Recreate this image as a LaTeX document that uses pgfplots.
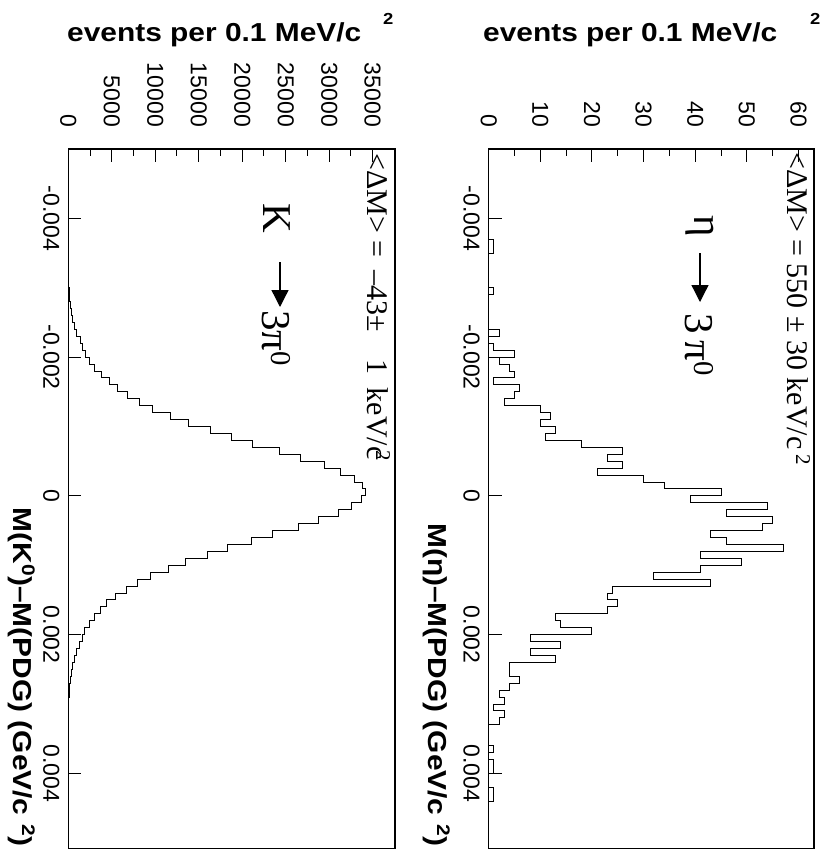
\documentclass[border=0pt]{standalone}
\usepackage{pgfplots}
\pgfplotsset{compat=1.18}
\usepackage{pgfplotstable}
\usepackage{fontspec}
\setmainfont{Liberation Sans}
\newfontfamily\serifface{Liberation Serif}
\newfontfamily\labelface{Liberation Sans}[FakeStretch=1.15]
\usetikzlibrary{arrows.meta}

% eta -> 3pi0 : lower bin edge M(eta)-M(PDG) [GeV/c^2], entries per bin
% (zero runs are written once; the outline returns to the axis there)
\pgfplotstableread{
m n
-0.0050 0
-0.0037 1
-0.0036 1
-0.0035 0
-0.0030 1
-0.0029 0
-0.0024 2
-0.0023 0
-0.0022 1
-0.0021 5
-0.0020 2
-0.0019 4
-0.0018 5
-0.0017 1
-0.0016 6
-0.0015 5
-0.0014 3
-0.0013 10
-0.0012 12
-0.0011 10
-0.0010 13
-0.0009 11
-0.0008 18
-0.0007 26
-0.0006 23
-0.0005 26
-0.0004 21
-0.0003 30
-0.0002 34
-0.0001 45
0.0000 39
0.0001 54
0.0002 46
0.0003 55
0.0004 53
0.0005 43
0.0006 46
0.0007 57
0.0008 41
0.0009 49
0.0010 41
0.0011 32
0.0012 43
0.0013 24
0.0014 23
0.0015 25
0.0016 23
0.0017 13
0.0018 14
0.0019 20
0.0020 8
0.0021 14
0.0022 8
0.0023 13
0.0024 4
0.0025 4
0.0026 6
0.0027 4
0.0028 2
0.0029 3
0.0030 1
0.0031 3
0.0032 2
0.0033 0
0.0036 1
0.0037 0
0.0038 1
0.0039 1
0.0040 0
0.0042 1
0.0043 1
0.0044 0
0.0050 0
}\etadata

% K0 -> 3pi0 : lower bin edge M(K0)-M(PDG) [GeV/c^2], entries per bin
\pgfplotstableread{
m n
-0.0050 0
-0.0034 8
-0.0033 15
-0.0032 30
-0.0031 55
-0.0030 90
-0.0029 150
-0.0028 240
-0.0027 360
-0.0026 520
-0.0025 760
-0.0024 970
-0.0023 1350
-0.0022 1660
-0.0021 1930
-0.0020 2430
-0.0019 3000
-0.0018 3770
-0.0017 4730
-0.0016 5660
-0.0015 6850
-0.0014 8160
-0.0013 9730
-0.0012 11730
-0.0011 13850
-0.0010 16350
-0.0009 18730
-0.0008 21230
-0.0007 24310
-0.0006 26660
-0.0005 29420
-0.0004 31350
-0.0003 32880
-0.0002 33800
-0.0001 34150
0.0000 33750
0.0001 32510
0.0002 31020
0.0003 28780
0.0004 26430
0.0005 23470
0.0006 21050
0.0007 18280
0.0008 15970
0.0009 13500
0.0010 11470
0.0011 9510
0.0012 7970
0.0013 6700
0.0014 5430
0.0015 4430
0.0016 3660
0.0017 3010
0.0018 2430
0.0019 1890
0.0020 1580
0.0021 1270
0.0022 960
0.0023 700
0.0024 500
0.0025 340
0.0026 220
0.0027 140
0.0028 85
0.0029 50
0.0030 28
0.0031 15
0.0032 8
0.0033 0
0.0050 0
}\kaondata

\pgfplotsset{
  massaxis/.style={
    scale only axis,
    height=699.3pt,
    y dir=reverse,
    ymin=-0.005, ymax=0.00508,
    xmin=0,
    axis line style={line width=1.1pt},
    tick style={line width=1pt, black},
    tick align=inside,
    major tick length=13pt,
    minor tick length=6.7pt,
    xtick pos=right, xticklabel pos=right,
    ytick pos=left, yticklabel pos=left,
    ytick={-0.004,-0.002,0,0.002,0.004},
    yticklabels={-0.004,-0.002,0,0.002,0.004},
    minor x tick num=1,
    scaled ticks=false,
    tick label style={font=\fontsize{23}{26}\selectfont, inner sep=0pt},
    xticklabel style={rotate=-90, anchor=east},
    xticklabel shift=22pt,
    yticklabel style={rotate=-90, anchor=north},
    yticklabel shift=8.7pt,
    /pgf/number format/assume math mode=true,
  },
  histline/.style={const plot mark right, black, line width=1pt, mark=none},
}

\begin{document}
\begin{tikzpicture}
\path[use as bounding box] (0pt,0pt) rectangle (823pt,-852pt);

% ---- K0 -> 3pi0 ----
\begin{axis}[massaxis, name=kaon,
  at={(68.3pt,-149pt)}, anchor=north west,
  width=326.7pt,
  xmax=37570,
  xtick={0,5000,10000,15000,20000,25000,30000,35000},
  xticklabels={0,5000,10000,15000,20000,25000,30000,35000}]
\addplot[histline] table[x=n, y=m] {\kaondata};
\end{axis}

% ---- eta -> 3pi0 ----
\begin{axis}[massaxis, name=eta,
  at={(488.7pt,-149pt)}, anchor=north west,
  width=325.3pt,
  xmax=63,
  xtick={0,10,20,30,40,50,60},
  xticklabels={0,10,20,30,40,50,60}]
\addplot[histline] table[x=n, y=m] {\etadata};
\end{axis}

% entries-axis titles
\node[anchor=base west, inner sep=0pt, font=\labelface\bfseries\fontsize{26}{30}\selectfont]
  at (67pt,-41.7pt) {events per 0.1 MeV/c};
\node[anchor=base west, inner sep=0pt, font=\labelface\bfseries\fontsize{16}{18}\selectfont]
  at (383pt,-24pt) {2};
\node[anchor=base west, inner sep=0pt, font=\labelface\bfseries\fontsize{26}{30}\selectfont]
  at (483pt,-41.7pt) {events per 0.1 MeV/c};
\node[anchor=base west, inner sep=0pt, font=\labelface\bfseries\fontsize{16}{18}\selectfont]
  at (810pt,-24pt) {2};

% mass-axis titles
\node[rotate=-90, anchor=base east, inner sep=0pt, font=\labelface\bfseries\fontsize{26}{30}\selectfont]
  at (13pt,-847pt) {M(K\textsuperscript{0})–M(PDG) (GeV/c\hspace{0.35em}\textsuperscript{2})};
\node[rotate=-90, anchor=base east, inner sep=0pt, font=\labelface\bfseries\fontsize{26}{30}\selectfont]
  at (428pt,-847pt) {M(η)–M(PDG) (GeV/c\hspace{0.35em}\textsuperscript{2})};

% mean mass shifts
\node[rotate=-90, anchor=base west, inner sep=0pt, font=\serifface\fontsize{30}{34}\selectfont]
  at (367pt,-153pt) {<ΔM> =\hspace{0.45em}–43±\hspace{0.9em}1\hspace{0.45em}keV/c\kern-0.3em\textsuperscript{2}};
\node[rotate=-90, anchor=base west, inner sep=0pt, font=\serifface\fontsize{30}{34}\selectfont]
  at (787pt,-152pt) {<ΔM> = 550 ± 30 keV/c\,\textsuperscript{2}};

% decay labels
\node[rotate=-90, anchor=base west, inner sep=0pt, font=\serifface\fontsize{41}{44}\selectfont]
  at (263pt,-203pt) {K};
\draw[line width=1.3pt, -{Triangle[length=17pt,width=17pt]}] (280pt,-262pt) -- (280pt,-307pt);
\node[rotate=-90, anchor=base west, inner sep=0pt, font=\serifface\fontsize{41}{44}\selectfont]
  at (262pt,-310pt) {3π\textsuperscript{0}};

\node[rotate=-90, anchor=center, inner sep=0pt, font=\serifface\fontsize{41}{44}\selectfont]
  at (700pt,-226.5pt) {η};
\draw[line width=1.3pt, -{Triangle[length=17pt,width=17pt]}] (700pt,-253pt) -- (700pt,-302pt);
\node[rotate=-90, anchor=base west, inner sep=0pt, font=\serifface\fontsize{41}{44}\selectfont]
  at (685pt,-313pt) {3\,π\textsuperscript{0}};
\end{tikzpicture}
\end{document}
